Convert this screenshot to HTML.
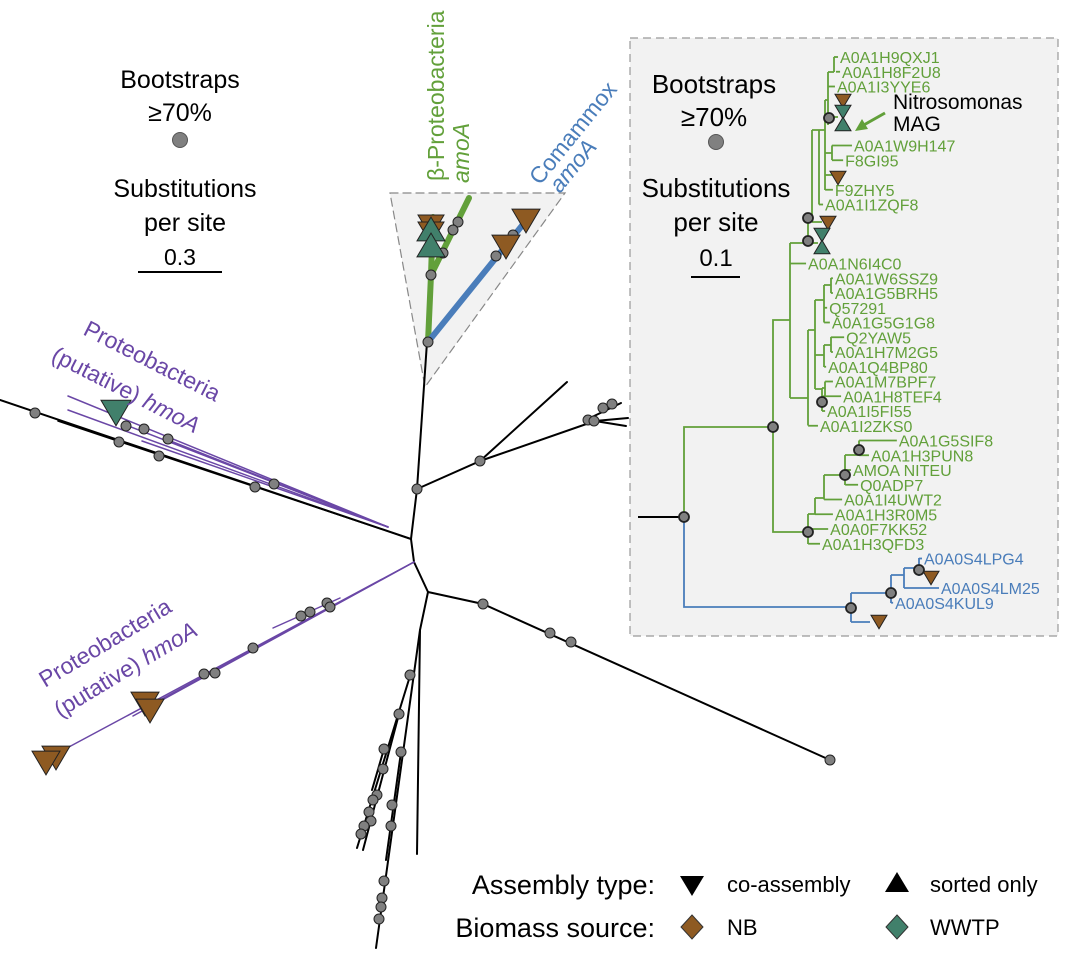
<!DOCTYPE html>
<html><head><meta charset="utf-8"><style>
body{margin:0;background:#fff;}
svg{display:block;font-family:"Liberation Sans",sans-serif;}
</style></head><body>
<svg id="fig" width="1066" height="957" viewBox="0 0 1066 957" xmlns="http://www.w3.org/2000/svg">
<g id="main" fill="none" stroke-linecap="round">
 <polygon points="390,193 565,193 425,387" fill="#f2f2f2" stroke="#888" stroke-width="1.2" stroke-dasharray="8,5"/>
 <g stroke="#000" stroke-width="2">
  <path d="M411,539 L0,400"/><path d="M411,539 L58,421" stroke-width="1.5"/>
  <path d="M411,539 L414,562 L428,592"/>
  <path d="M411,539 L417,489 L427,342"/>
  <path d="M417,489 L480,461 L567,382"/><path d="M480,461 L595,421 L628,418"/><path d="M590,418 L621,403"/><path d="M595,421 L626,426"/>
  <path d="M428,592 L483,604 L830,760"/>
  <path d="M428,592 L420,630 L417,854"/><path d="M420,630 L376,948"/><path d="M410,676 L357,848"/><path d="M399,714 L363,850"/><path d="M401,752 L386,860"/><path d="M384,749 L372,790"/>
 </g>
 <g stroke="#6a47a6" stroke-width="1.5">
  <path d="M388,527 L68,396"/><path d="M388,527 L68,410"/><path d="M388,527 L142,441"/><path d="M388,527 L126,425"/><path d="M388,527 L168,440"/>
  <path d="M414,562 L67,748"/><path d="M414,562 L133,716"/><path d="M340,598 L273,628"/><path d="M414,562 L160,700"/>
 </g>
 <path d="M428,342 L431,275 L433,217" stroke="#62a03a" stroke-width="6"/>
 <path d="M431,275 L469,198" stroke="#62a03a" stroke-width="6"/>
 <path d="M428,342 L533,212" stroke="#4a7dba" stroke-width="6"/>
</g>
<g id="mainMarks"></g>
<g id="inset">
 <rect x="630" y="38" width="428" height="598" fill="#f2f2f2" stroke="#999" stroke-width="1.2" stroke-dasharray="8,5"/>
 <path d="M638,517 H684" stroke="#000" stroke-width="2" fill="none"/>
 <path id="greenPaths" fill="none" stroke="#62a03a" stroke-width="1.8" d="M684,517 V427 H773 M773,427 V320 H790 M773,427 V532 H808 M790,243 V398 M790,243 H808 V218 M808,243 H818 M808,218 H812 V130 M812,222 H822 M812,130 H819 M819,130 V204.5 M819,130 H825 M825,100 V190 M825,100 H828 M828,72 V125 M828,72 H834 M834,57 V72 M828,117 H838 M825,153 H832 M832,145.5 V160 M825,175 H832 M790,398 H808 M808,330 V425.5 M808,330 H815 M815,300 V389 M815,300 H824 M824,285 V322.5 M824,285 H831 M831,278 V293 M815,355 H824 M824,345 V367 M824,345 H831 M831,337 V352 M815,389 H822 M822,388 V411 M822,388 H825 M825,381.5 V396 M808,514 V544 M808,514 H815 M815,498 V514 M815,498 H824 M824,475 V499.5 M824,475 H845 M845,455 V485 M845,455 H859 M859,440.5 V455"/>
 <path fill="none" stroke="#4a7dba" stroke-width="1.8" d="M684,517 V607 H851 M851,593 V622 M851,593 H891 M891,575 V603 M851,622 H870 M891,575 H904 M904,568 V588 M904,568 H919 M919,558 V576"/>
 <g id="leaves"></g>
 <g id="insetMarks"></g>
 <text x="714" y="93" font-size="26" text-anchor="middle">Bootstraps</text>
 <text x="714" y="126" font-size="26" text-anchor="middle">≥70%</text>
 <circle cx="716" cy="142" r="7.5" fill="#808080" stroke="#555" stroke-width="1"/>
 <text x="716" y="197" font-size="26" text-anchor="middle">Substitutions</text>
 <text x="716" y="231" font-size="26" text-anchor="middle">per site</text>
 <text x="716" y="266" font-size="24" text-anchor="middle">0.1</text>
 <line x1="691" y1="277" x2="740" y2="277" stroke="#000" stroke-width="2"/>
 <text x="893" y="109" font-size="21">Nitrosomonas</text>
 <text x="893" y="131" font-size="21">MAG</text>
 <line x1="885" y1="113" x2="862" y2="126" stroke="#62a03a" stroke-width="3"/>
 <polygon points="855,131 862,119 868,129" fill="#62a03a"/>
</g>
<g>
 <text x="180" y="88" font-size="25" text-anchor="middle">Bootstraps</text>
 <text x="180" y="121" font-size="25" text-anchor="middle">≥70%</text>
 <circle cx="180" cy="140" r="7.5" fill="#808080" stroke="#555" stroke-width="1"/>
 <text x="185" y="197" font-size="25" text-anchor="middle">Substitutions</text>
 <text x="185" y="231" font-size="25" text-anchor="middle">per site</text>
 <text x="180" y="265" font-size="23" text-anchor="middle">0.3</text>
 <line x1="138" y1="272" x2="222" y2="272" stroke="#000" stroke-width="2"/>
</g>
<g font-size="23">
 <text transform="translate(444,181) rotate(-90)" fill="#62a03a">β-Proteobacteria</text>
 <text transform="translate(469,183) rotate(-90)" fill="#62a03a" font-style="italic">amoA</text>
 <text transform="translate(540,186) rotate(-51)" fill="#4a7dba">Comammox</text>
 <text transform="translate(560,194) rotate(-51)" fill="#4a7dba" font-style="italic">amoA</text>
 <text transform="translate(82,334) rotate(27)" fill="#6a47a6">Proteobacteria</text>
 <text transform="translate(50,360) rotate(27)" fill="#6a47a6">(putative) <tspan font-style="italic">hmoA</tspan></text>
 <text transform="translate(45,688) rotate(-31)" fill="#6a47a6">Proteobacteria</text>
 <text transform="translate(60,718) rotate(-31)" fill="#6a47a6">(putative) <tspan font-style="italic">hmoA</tspan></text>
</g>
<g>
 <text x="655" y="894" font-size="27" text-anchor="end">Assembly type:</text>
 <polygon points="680,876 704,876 692,896" fill="#000"/>
 <text x="727" y="892" font-size="22">co-assembly</text>
 <polygon points="885,892 909,892 897,872" fill="#000"/>
 <text x="930" y="892" font-size="22">sorted only</text>
 <text x="655" y="937" font-size="27" text-anchor="end">Biomass source:</text>
 <polygon points="692,915 703,927 692,939 681,927" fill="#8e5a22" stroke="#333"/>
 <text x="727" y="935" font-size="22">NB</text>
 <polygon points="897,915 908,927 897,939 886,927" fill="#41806b" stroke="#333"/>
 <text x="930" y="935" font-size="22">WWTP</text>
</g>
</svg>
<script>
const leafNames=["A0A1H9QXJ1","A0A1H8F2U8","A0A1I3YYE6","A0A1W9H147","F8GI95","F9ZHY5","A0A1I1ZQF8","A0A1N6I4C0","A0A1W6SSZ9","A0A1G5BRH5","Q57291","A0A1G5G1G8","Q2YAW5","A0A1H7M2G5","A0A1Q4BP80","A0A1M7BPF7","A0A1H8TEF4","A0A1I5FI55","A0A1I2ZKS0","A0A1G5SIF8","A0A1H3PUN8","AMOA NITEU","Q0ADP7","A0A1I4UWT2","A0A1H3R0M5","A0A0F7KK52","A0A1H3QFD3","A0A0S4LPG4","A0A0S4LM25","A0A0S4KUL9"];
const leafSlots=[0,1,2,6,7,9,10,14,15,16,17,18,19,20,21,22,23,24,25,26,27,28,29,30,31,32,33,34,36,37];
const leafDepth=[.453,.459,.444,.494,.468,.438,.409,.359,.438,.438,.421,.429,.471,.438,.418,.438,.462,.415,.394,.626,.544,.491,.512,.465,.438,.424,.4,.7,.75,.615];
const parentDepth=[.441,.447,.424,.435,.435,.415,.397,.312,.432,.432,.412,.412,.432,.432,.412,.415,.406,.406,.365,.515,.515,.474,.474,.412,.385,.365,.365,.691,.647,.609];
const leafClade=["b","b","b","b","b","b","b","b","b","b","b","b","b","b","b","b","b","b","b","b","b","b","b","b","b","b","b","c","c","c"];
const NS="http://www.w3.org/2000/svg";
const xs=d=>684+d*340, ys=s=>57+s*14.75;
const lg=document.getElementById('leaves');
leafNames.forEach((n,i)=>{
 const col=leafClade[i]==="b"?"#62a03a":"#4a7dba";
 const l=document.createElementNS(NS,'line');
 
 
 l.setAttribute('x1',xs(parentDepth[i]));l.setAttribute('x2',xs(leafDepth[i]));
 l.setAttribute('y1',ys(leafSlots[i]));l.setAttribute('y2',ys(leafSlots[i]));
 l.setAttribute('stroke',col);l.setAttribute('stroke-width','1.8');lg.appendChild(l);
 const t=document.createElementNS(NS,'text');
 
 
 t.setAttribute('x',xs(leafDepth[i])+2);t.setAttribute('y',ys(leafSlots[i])+6);
 t.setAttribute('font-size','16');t.setAttribute('fill',col);t.textContent=n;lg.appendChild(t);
});
function dot(g,x,y,r,sw){const c=document.createElementNS(NS,'circle');
 
 
 c.setAttribute('cx',x);c.setAttribute('cy',y);c.setAttribute('r',r);c.setAttribute('fill','#808080');c.setAttribute('stroke','#222');c.setAttribute('stroke-width',sw);g.appendChild(c);}
function tri(g,x,y,s,fill,up){const p=document.createElementNS(NS,'polygon');
 
 
 const h=s*0.85;
 p.setAttribute('points',up?`${x-s/2},${y+h/2} ${x+s/2},${y+h/2} ${x},${y-h/2}`:`${x-s/2},${y-h/2} ${x+s/2},${y-h/2} ${x},${y+h/2}`);
 p.setAttribute('fill',fill);p.setAttribute('stroke','#222');p.setAttribute('stroke-width','1');g.appendChild(p);}
const B="#8e5a22",T="#41806b";
const mm=document.getElementById('mainMarks');
[[35,413],[119,442],[159,456],[255,487],[274,484],[126,426],[144,429],[168,439],[417,489],[301,616],[310,612],[327,603],[330,607],[253,648],[204,674],[215,673],[410,675],[399,714],[384,749],[401,752],[383,769],[377,795],[373,800],[369,812],[371,821],[364,826],[361,834],[392,805],[391,826],[384,881],[382,898],[381,907],[379,919],[480,461],[588,420],[594,421],[603,408],[612,404],[483,604],[550,633],[571,642],[830,760],[431,275],[428,342],[458,222],[453,230],[443,253],[496,256],[513,235]].forEach(p=>dot(mm,p[0],p[1],5,1));
tri(mm,431,226,26,B,false);tri(mm,431,233,26,B,false);tri(mm,431,229,28,T,true);tri(mm,431,245,28,T,true);
tri(mm,506,247,28,B,false);tri(mm,526,221,28,B,false);
tri(mm,116,413,30,T,false);
tri(mm,145,704,28,B,false);tri(mm,150,711,28,B,false);tri(mm,56,758,28,B,false);tri(mm,46,763,28,B,false);
const im=document.getElementById('insetMarks');
tri(im,843,101,16,B,false);tri(im,843,112,16,T,false);tri(im,843,124,16,T,true);
tri(im,838,178,16,B,false);
tri(im,828,223,16,B,false);tri(im,822,235,16,T,false);tri(im,822,247,16,T,true);
tri(im,879,622,16,B,false);tri(im,931,578,16,B,false);
[[829,118],[808,218],[808,241],[684,517],[773,427],[822,402],[859,450],[845,475],[808,532],[851,608],[891,593],[919,570]].forEach(p=>dot(im,p[0],p[1],5,1.8));
</script>
</body></html>
